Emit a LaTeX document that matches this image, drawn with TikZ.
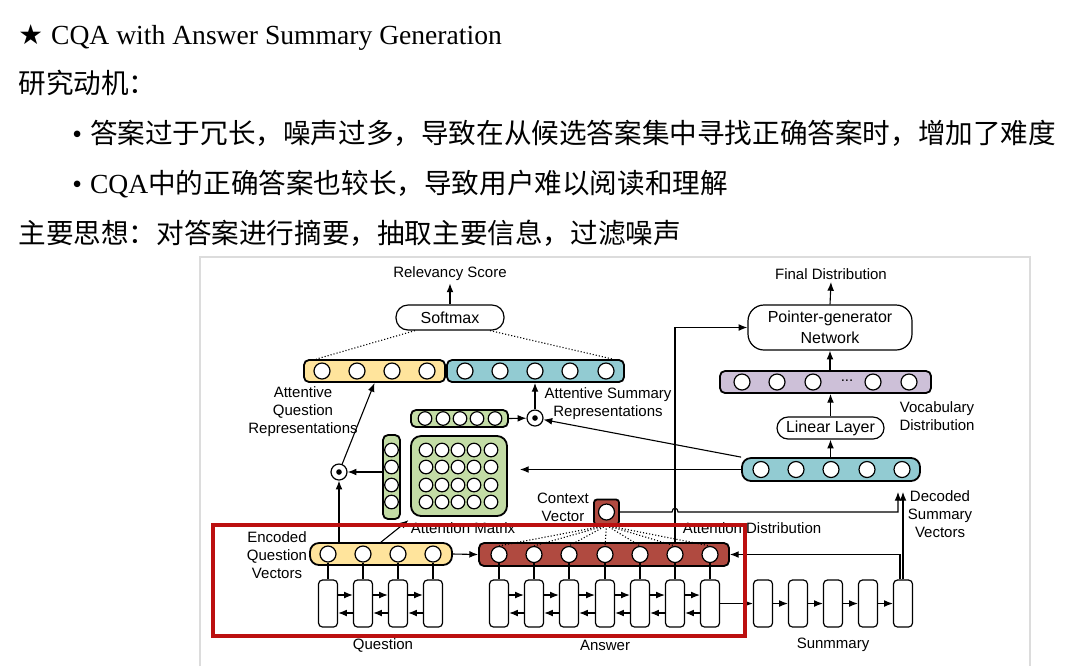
\documentclass[tikz,border=0pt]{standalone}
\usepackage{fontspec}
\setmainfont{Liberation Serif}
\setsansfont{Liberation Sans}
\newfontfamily\cjk{Noto Sans CJK SC}
\newfontfamily\symfont{DejaVu Sans}
\usetikzlibrary{arrows.meta}

\definecolor{qyellow}{HTML}{FFE49C}
\definecolor{steal}{HTML}{92CBD2}
\definecolor{mgreen}{HTML}{C3DCA5}
\definecolor{vpurple}{HTML}{CDC0D8}
\definecolor{ared}{HTML}{B04A40}
\definecolor{hired}{HTML}{BC1010}
\definecolor{framegray}{HTML}{DCDCDC}

\begin{document}
\begin{tikzpicture}[x=0.5pt, y=-0.5pt, >={Latex[length=4.4pt,width=3.4pt]},
  lbl/.style={font=\sffamily\fontsize{7.5}{9}\selectfont, align=center, inner sep=1pt},
  boxtxt/.style={font=\sffamily\fontsize{8}{10.5}\selectfont, align=center},
  bar/.style={draw, line width=0.9pt, rounded corners=2.5pt, minimum height=11pt, inner sep=0pt},
  unit/.style={draw, circle, fill=white, line width=0.6pt, minimum size=8pt, inner sep=0pt},
  sunit/.style={unit, minimum size=6.8pt},
  pill/.style={draw, line width=0.6pt, rounded corners=5.5pt, minimum height=11pt, inner sep=0pt, boxtxt},
  rnn/.style={draw, line width=0.6pt, rounded corners=2pt, minimum width=9.5pt, minimum height=23.5pt, inner sep=0pt},
  odot/.style={draw, circle, fill=white, line width=0.6pt, minimum size=8pt, inner sep=0pt},
  conn/.style={line width=0.55pt},
  txt/.style={anchor=base west, inner sep=0pt, font=\fontsize{13.8}{16}\selectfont}]
\useasboundingbox (0,0) rectangle (1080,666);

% heading and text
\node[txt] (title) at (18,44) {{\symfont ★}\hspace{4pt}CQA with Answer Summary Generation};
\node[txt] (motive) at (18,93) {\cjk 研究动机：};
\node[txt] (pt1) at (72,143) {•\hspace{4pt}{\cjk 答案过于冗长，噪声过多，导致在从候选答案集中寻找正确答案时，增加了难度}};
\node[txt] (pt2) at (72,193) {•\hspace{4pt}CQA{\cjk 中的正确答案也较长，导致用户难以阅读和理解}};
\node[txt] (idea) at (18,243) {\cjk 主要思想：对答案进行摘要，抽取主要信息，过滤噪声};

\draw[framegray, line width=0.6pt] (200,666) -- (200,257) -- (1030,257) -- (1030,666);

% relevancy part
\node[lbl] (rel) at (450,274) {Relevancy Score};
\node[pill, minimum width=54pt, minimum height=12.5pt, rounded corners=6pt] (soft) at (450,317.5) {Softmax};
\node[bar, fill=qyellow, minimum width=70.5pt] (aqr) at (374.5,371) {};
\node[bar, fill=steal, minimum width=88.5pt] (asr) at (535.5,371) {};
\foreach \x [count=\i] in {322,357,392,427} \node[unit] (aq\i) at (\x,371) {};
\foreach \x [count=\i] in {465,500,535,570,606} \node[unit] (as\i) at (\x,371) {};
\draw[->, conn] (soft.north) -- (rel.south);
\draw[conn, densely dotted] ([xshift=-17.5pt]soft.south) -- ([xshift=6.5pt]aqr.north west);
\draw[conn, densely dotted] ([xshift=20pt]soft.south) -- ([xshift=-6pt]asr.north east);
\node[lbl] (aqrl) at (303,412) {Attentive\\Question\\Representations};
\node[lbl] (asrl) at (608,404) {Attentive Summary\\Representations};

% attention
\node[odot] (dotq) at (339,472) {};
\node[odot] (dots) at (535,418) {};
\fill (dotq.center) circle (1.4pt);
\fill (dots.center) circle (1.4pt);
\node[bar, fill=mgreen, minimum width=48.5pt, minimum height=8.5pt] (row) at (459.5,418.5) {};
\foreach \x [count=\i] in {425,443,460,477,495} \node[sunit] (r\i) at (\x,418.5) {};
\node[bar, fill=mgreen, minimum width=8.5pt, minimum height=42pt] (col) at (391.5,477) {};
\foreach \y [count=\i] in {450,467,485,502} \node[sunit] (c\i) at (391.5,\y) {};
\node[bar, fill=mgreen, minimum width=48pt, minimum height=40pt, rounded corners=5pt] (mat) at (459,476) {};
\foreach \y [count=\i] in {450,467,485,502}
  \foreach \x [count=\j] in {426,442,458,474,491}
    \node[sunit] (m\i\j) at (\x,\y) {};
\node[lbl] (attl) at (463,528) {Attention Matrix};

% encoders
\node[bar, fill=qyellow, minimum width=71pt, rounded corners=4.5pt] (eq) at (381,554) {};
\foreach \x [count=\i] in {328,363,398,433}
{
  \node[unit] (qv\i) at (\x,554) {};
  \node[rnn] (qc\i) at (\x,603.5) {};
  \draw[conn] (qv\i) -- (qc\i);
}
\node[bar, fill=ared, minimum width=125pt, minimum height=11.5pt] (ans) at (604,554.5) {};
\foreach \x [count=\i] in {499,534,569,605,640,675,710}
{
  \node[unit] (av\i) at (\x,554.5) {};
  \node[rnn] (ac\i) at (\x,603.5) {};
  \draw[conn] (av\i) -- (ac\i);
}
\foreach \x [count=\i] in {763,798,833,868,903} \node[rnn] (sc\i) at (\x,603.5) {};
\foreach \i/\j in {1/2,2/3,3/4}
{
  \draw[->, conn] ([yshift=4.25pt]qc\i.east) -- ([yshift=4.25pt]qc\j.west);
  \draw[->, conn] ([yshift=-4.75pt]qc\j.west) -- ([yshift=-4.75pt]qc\i.east);
}
\foreach \i/\j in {1/2,2/3,3/4,4/5,5/6,6/7}
{
  \draw[->, conn] ([yshift=4.25pt]ac\i.east) -- ([yshift=4.25pt]ac\j.west);
  \draw[->, conn] ([yshift=-4.75pt]ac\j.west) -- ([yshift=-4.75pt]ac\i.east);
}
\foreach \i/\j in {1/2,2/3,3/4,4/5} \draw[->, conn] (sc\i) -- (sc\j);
\draw[->, conn] (ac7) -- (sc1);
\node[lbl] (eql) at (277,555) {Encoded\\Question\\Vectors};

% context vector
\node[draw, fill=ared, line width=0.9pt, rounded corners=1.5pt, minimum size=12.5pt, inner sep=0pt] (ctx) at (606.5,512) {};
\node[unit] (cv) at (ctx) {};
\node[lbl] (ctxl) at (563,507) {Context\\Vector};
\foreach \i in {1,...,7} \draw[conn, densely dotted] (ctx.south) -- (av\i.north);
\node[lbl] (adl) at (752,528) {Attention Distribution};

% decoder side
\node[lbl] (fin) at (831,274) {Final Distribution};
\node[pill, minimum width=82pt, minimum height=22.5pt, rounded corners=8pt] (pgn) at (830,327.5) {Pointer-generator\\Network};
\node[bar, fill=vpurple, minimum width=105.5pt] (voc) at (825.5,382) {};
\foreach \x [count=\i] in {742,777,813,873,909} \node[unit] (vv\i) at (\x,382) {};
\node[lbl] (vdots) at (847,381) {...};
\node[pill, minimum width=53.5pt] (lin) at (830.5,428) {Linear Layer};
\node[lbl] (vocl) at (937,416) {Vocabulary\\Distribution};
\node[bar, fill=steal, minimum width=89pt, minimum height=11.5pt, rounded corners=4.5pt] (dec) at (831,469.5) {};
\foreach \x [count=\i] in {761,796,831,867,902} \node[unit] (dv\i) at (\x,469.5) {};
\node[lbl] (decl) at (940,514) {Decoded\\Summary\\Vectors};

% connectors
\draw[->, conn] (pgn.north) -- (fin.south);
\draw[->, conn] (pgn.south |- voc.north) -- (pgn.south);
\draw[->, conn] (lin.north) -- (lin.north |- voc.south);
\draw[->, conn] (lin.south |- dec.north) -- (lin.south);
\draw[->, conn] (dotq) -- (aqr.south);
\draw[->, conn] (col.west |- dotq) -- (dotq);
\draw[->, conn] (eq.north -| dotq) -- (dotq);
\draw[->, conn] (eq.north) -- (attl.north west);
\draw[->, conn] (row.east) -- (dots);
\draw[->, conn] (dots) -- (dots |- asr.south);
\draw[->, conn] (dec.north west) -- (dots);
\draw[->, conn, shorten >=6pt] (dec.west) -- (mat.east |- dec.west);
\draw[->, conn] (eq.east) -- (ans.west);
\draw[->, conn] (ans.north -| av6) |- (pgn.west);
\coordinate (hop) at (av6 |- ctx.east);
\path (dec.south -| sc5) coordinate (tipS);
\draw[->, conn, shorten >=5pt] (ctx.east) -- ([xshift=-1.5pt]hop)
  .. controls ([xshift=-1.5pt,yshift=2.5pt]hop) and ([xshift=1.5pt,yshift=2.5pt]hop) .. ([xshift=1.5pt]hop)
  -| ([xshift=-2.5pt]tipS);
\draw[->, conn, shorten >=5pt] (sc5.north) -- (tipS);
\draw[->, conn] ([xshift=-1.5pt]sc5.north) |- (ans.east);

% bottom labels
\node[lbl] (ql) at (383,645) {Question};
\node[lbl] (al) at (605,645) {Answer};
\node[lbl] (sl) at (833,645) {Sunmmary};

% highlight
\draw[hired, line width=1.6pt] (213,525) rectangle (745,636);
\end{tikzpicture}
\end{document}
